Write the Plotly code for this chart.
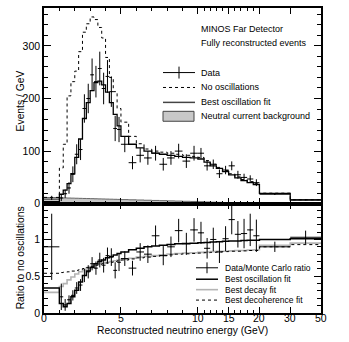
import plotly.graph_objects as go

# ---------------- data ----------------
EDGES = [0, 1, 1.25, 1.5, 1.75, 2, 2.25, 2.5, 2.75, 3, 3.25, 3.5, 3.75, 4, 4.25, 4.5, 4.75, 5,
         5.5, 6, 6.5, 7, 7.5, 8, 8.5, 9, 9.5, 10,
         11, 12, 13, 14, 15, 16, 17, 18, 19, 20, 30, 50]

NO_OSC = [12, 68, 113, 205, 232, 252, 289, 326, 342, 355, 350, 335, 315, 278, 240, 213, 181,
          155, 128, 114, 104, 100, 98, 96, 94, 92, 90,
          88, 82, 75, 69, 63, 57, 51, 46, 42, 38, 20, 7.5]
BEST_FIT = [4, 18, 26, 38, 57, 88, 123, 162, 192, 215, 230, 233, 226, 212, 192, 170, 148,
            128, 113, 106, 100, 96, 94, 92, 90, 88, 87,
            85, 79, 72, 67, 61, 55, 49, 44, 40, 36.5, 19.5, 7]
NC_BKG = [8, 11, 11, 10.8, 10.6, 10.4, 10.2, 10, 9.8, 9.6, 9.4, 9.2, 9, 8.8, 8.6, 8.4, 8.2,
          7.8, 7.4, 7, 6.6, 6.2, 5.8, 5.4, 5, 4.6, 4.3,
          3.8, 3.3, 2.9, 2.6, 2.3, 2.0, 1.8, 1.6, 1.4, 1.2, 0.8, 0.3]
DATA = [11, 11, 19, 30, 56, 94, 103, 181, 200, 245, 232, 257, 219, 242, 213, 143, 141,
        113, 78, 92, 87, 96, 75, 87, 100, 81, 96,
        96, 72, 75, 57, 64, 72, 55, 50, 47, 40, 18, 7.7]
DATA_ERR = [4, 6, 8, 11, 15, 19, 20, 27, 28, 31, 30, 32, 30, 31, 29, 24, 24,
            15, 12.5, 13.5, 13, 14, 12, 13, 14, 13, 14,
            10, 9, 9, 8, 8, 8.5, 7.5, 7, 7, 6.5, 1.3, 0.6]

RATIO = [0.90, 0.22, 0.11, 0.18, 0.24, 0.34, 0.38, 0.51, 0.56, 0.67, 0.61, 0.72, 0.65, 0.78, 0.76, 0.58, 0.69,
         0.74, 0.61, 0.83, 0.80, 1.05, 0.78, 0.90, 1.12, 0.94, 1.13,
         1.09, 0.88, 1.00, 0.83, 1.01, 1.27, 1.07, 1.08, 1.13, 1.05, 0.90, 1.03]
RATIO_ERR = [0.45, 0.18, 0.08, 0.06, 0.07, 0.08, 0.08, 0.09, 0.09, 0.09, 0.09, 0.10, 0.10, 0.11, 0.12, 0.11, 0.12,
             0.10, 0.10, 0.12, 0.12, 0.14, 0.13, 0.14, 0.16, 0.15, 0.16,
             0.15, 0.14, 0.16, 0.15, 0.17, 0.20, 0.18, 0.20, 0.22, 0.22, 0.07, 0.09]
RATIO_OSC = [0.34, 0.13, 0.085, 0.13, 0.22, 0.31, 0.42, 0.51, 0.57, 0.62, 0.67, 0.70, 0.72, 0.75, 0.77, 0.79, 0.81,
             0.83, 0.86, 0.88, 0.90, 0.91, 0.92, 0.93, 0.94, 0.945, 0.95,
             0.955, 0.96, 0.965, 0.97, 0.975, 0.98, 0.98, 0.985, 0.99, 0.99, 1.0, 1.01]
RATIO_DECAY = [0.28, 0.36, 0.40, 0.45, 0.49, 0.53, 0.56, 0.59, 0.61, 0.63, 0.65, 0.67, 0.68, 0.69, 0.70, 0.71, 0.72,
               0.73, 0.745, 0.76, 0.77, 0.78, 0.79, 0.80, 0.81, 0.815, 0.82,
               0.825, 0.83, 0.835, 0.84, 0.84, 0.845, 0.85, 0.85, 0.855, 0.86, 0.92, 0.95]
RATIO_DECOH = [0.54, 0.55, 0.555, 0.56, 0.57, 0.58, 0.59, 0.605, 0.62, 0.635, 0.65, 0.66, 0.67, 0.68, 0.69, 0.70, 0.71,
               0.72, 0.735, 0.75, 0.76, 0.77, 0.78, 0.79, 0.80, 0.805, 0.81,
               0.815, 0.82, 0.825, 0.83, 0.835, 0.84, 0.84, 0.845, 0.85, 0.85, 0.90, 0.93]

X_TICK_E = [0, 5, 10, 15, 20, 30, 50]
X_TICK_TEXT = ["0", "5", "10", "15", "20", "30", "50"]


# piecewise-linear energy scale of the original axis
def warp(e):
    if e <= 10:
        return e
    if e <= 20:
        return 10 + (e - 10) * 0.4
    if e <= 30:
        return 14 + (e - 20) * 0.2
    return 16 + (e - 30) * 0.1


wx = [warp(e) for e in EDGES]
centers = [(wx[i] + wx[i + 1]) / 2 for i in range(len(wx) - 1)]
halfw = [(wx[i + 1] - wx[i]) / 2 for i in range(len(wx) - 1)]


def step(vals):
    return list(vals) + [vals[-1]]


FONT = "Liberation Sans, Arial, sans-serif"
fig = go.Figure()

# ---------------- top panel ----------------
fig.add_trace(go.Scatter(x=wx, y=step(NC_BKG), mode="lines", line=dict(shape="hv", color="#666", width=1),
                         fill="tozeroy", fillcolor="#c8c8c8", xaxis="x", yaxis="y", showlegend=False))
fig.add_trace(go.Scatter(x=wx, y=step(NO_OSC), mode="lines", line=dict(shape="hv", color="black", width=1, dash="dot"),
                         xaxis="x", yaxis="y", showlegend=False))
fig.add_trace(go.Scatter(x=wx, y=step(BEST_FIT), mode="lines", line=dict(shape="hv", color="black", width=1.3),
                         xaxis="x", yaxis="y", showlegend=False))
fig.add_trace(go.Scatter(x=centers, y=DATA, mode="markers", marker=dict(size=1, color="black"),
                         error_x=dict(type="data", array=halfw, width=0, thickness=1, color="black"),
                         error_y=dict(type="data", array=DATA_ERR, width=0, thickness=1, color="black"),
                         xaxis="x", yaxis="y", showlegend=False))

# ---------------- ratio panel ----------------
fig.add_trace(go.Scatter(x=wx, y=step(RATIO_DECAY), mode="lines", line=dict(shape="hv", color="#b4b4b4", width=1.6),
                         xaxis="x2", yaxis="y2", showlegend=False))
fig.add_trace(go.Scatter(x=wx, y=step(RATIO_DECOH), mode="lines", line=dict(shape="hv", color="black", width=1, dash="dot"),
                         xaxis="x2", yaxis="y2", showlegend=False))
fig.add_trace(go.Scatter(x=wx, y=step(RATIO_OSC), mode="lines", line=dict(shape="hv", color="black", width=1.5),
                         xaxis="x2", yaxis="y2", showlegend=False))
fig.add_trace(go.Scatter(x=centers, y=RATIO, mode="markers", marker=dict(size=1, color="black"),
                         error_x=dict(type="data", array=halfw, width=0, thickness=1, color="black"),
                         error_y=dict(type="data", array=RATIO_ERR, width=0, thickness=1, color="black"),
                         xaxis="x2", yaxis="y2", showlegend=False))

split = 110 / 307
xminor = [warp(e) for e in list(range(1, 10)) + list(range(11, 20))]
common_x = dict(range=[0, 18], tickmode="array", tickvals=[warp(e) for e in X_TICK_E], ticktext=X_TICK_TEXT,
                ticks="inside", ticklen=6, tickwidth=1, tickcolor="black", showline=True, linecolor="black",
                linewidth=1.5, mirror="allticks", showgrid=False, zeroline=False, showticklabels=False,
                minor=dict(tickmode="array", tickvals=xminor, ticks="inside", ticklen=3, tickcolor="black"))
common_y = dict(ticks="inside", ticklen=7, tickwidth=1, tickcolor="black", showline=True, linecolor="black",
                linewidth=1.5, mirror="allticks", showgrid=False, zeroline=False,
                tickfont=dict(family=FONT, size=10.5, color="black"))

fig.update_layout(
    width=349, height=342, margin=dict(l=44, r=28, t=6, b=29),
    paper_bgcolor="white", plot_bgcolor="white", showlegend=False,
    xaxis=dict(common_x, anchor="y"),
    yaxis=dict(common_y, domain=[split, 1], range=[0, 372], tickmode="array", tickvals=[0, 100, 200, 300],
               minor=dict(dtick=20, ticks="inside", ticklen=4, tickcolor="black"), anchor="x"),
    xaxis2=dict(common_x, anchor="y2"),
    yaxis2=dict(common_y, domain=[0, split], range=[0, 1.486], tickmode="array", tickvals=[0, 0.5, 1],
                ticktext=["0", "0.5", "1"],
                minor=dict(dtick=0.1, ticks="inside", ticklen=4, tickcolor="black"), anchor="x2"),
)


def px(x):
    return (x - 44) / 277


def py(y):
    return (313 - y) / 307


ann = []
# x tick labels (placed close to the axis, as in the original)
for e, t in zip(X_TICK_E, X_TICK_TEXT):
    ann.append(dict(text=t, x=warp(e), y=py(318.5), xref="x2", yref="paper", showarrow=False,
                    font=dict(family=FONT, size=10.5, color="black"), xanchor="center", yanchor="middle"))
# axis titles
ann.append(dict(text="Reconstructed neutrino energy (GeV)", x=px(182), y=py(331), xref="paper", yref="paper",
                showarrow=False, font=dict(family=FONT, size=10.3, color="black"), xanchor="center", yanchor="middle"))
ann.append(dict(text="Events / GeV", x=px(20), y=py(100), xref="paper", yref="paper", textangle=-90,
                showarrow=False, font=dict(family=FONT, size=10.3, color="black"), xanchor="center", yanchor="middle"))
ann.append(dict(text="Ratio to no oscillations", x=px(20), y=py(258), xref="paper", yref="paper", textangle=-90,
                showarrow=False, font=dict(family=FONT, size=10.3, color="black"), xanchor="center", yanchor="middle"))

# top legend
top_items = [("MINOS Far Detector", 27), ("Fully reconstructed events", 41), ("Data", 71),
             ("No oscillations", 86), ("Best oscillation fit", 101), ("Neutral current background", 115)]
for t, yy in top_items:
    ann.append(dict(text=t, x=px(199), y=py(yy), xref="paper", yref="paper", showarrow=False,
                    font=dict(family=FONT, size=9, color="black"), xanchor="left", yanchor="middle"))
bot_items = [("Data/Monte Carlo ratio", 267.5), ("Best oscillation fit", 279), ("Best decay fit", 289.5),
             ("Best decoherence fit", 300)]
for t, yy in bot_items:
    ann.append(dict(text=t, x=px(223), y=py(yy), xref="paper", yref="paper", showarrow=False,
                    font=dict(family=FONT, size=8.5, color="black"), xanchor="left", yanchor="middle"))

shapes = []


def seg(x0, y0, x1, y1, color="black", width=1, dash="solid"):
    shapes.append(dict(type="line", xref="paper", yref="paper", x0=px(x0), y0=py(y0), x1=px(x1), y1=py(y1),
                       line=dict(color=color, width=width, dash=dash)))


seg(163, 71, 195, 71)
seg(179, 65, 179, 77)
seg(163, 86, 195, 86, dash="dot")
seg(163, 101, 195, 101, color="#444", width=1.5)
shapes.append(dict(type="rect", xref="paper", yref="paper", x0=px(163), y0=py(120), x1=px(194), y1=py(110),
                   fillcolor="#c8c8c8", line=dict(color="#444", width=1)))
seg(196, 267.5, 218, 267.5)
seg(207, 262, 207, 273)
seg(196, 279, 218, 279, width=1.5)
seg(196, 289.5, 218, 289.5, color="#b4b4b4", width=1.6)
seg(196, 300, 218, 300, dash="dot")

fig.update_layout(annotations=ann, shapes=shapes)
fig.write_html("out.html", config={"displayModeBar": False},
               post_script="document.body.style.margin='0';document.body.style.overflow='hidden';")
